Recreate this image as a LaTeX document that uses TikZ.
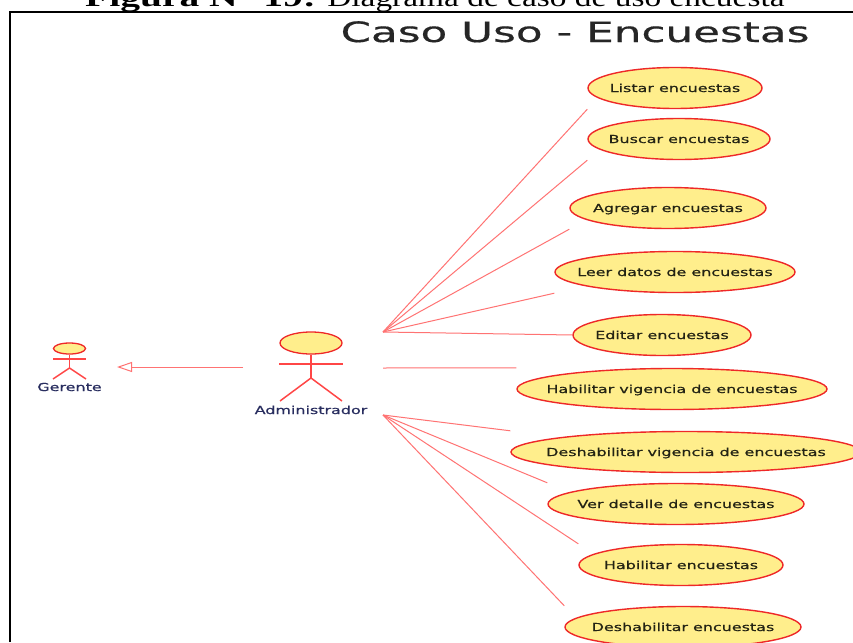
\documentclass[tikz,border=0pt]{standalone}
\usepackage{fontspec}
\usetikzlibrary{shapes.geometric,arrows.meta}
\newfontfamily\umlfont[FakeStretch=1.45,FakeBold=0.6]{DejaVu Sans}
\newfontfamily\titlefont[FakeStretch=1.56,FakeBold=0.5]{DejaVu Sans}
\newfontfamily\capfont[FakeStretch=1.285]{Liberation Serif}
\newfontfamily\capboldfont[FakeStretch=1.52]{Liberation Serif Bold}
\definecolor{ucfill}{RGB}{255,238,140}
\definecolor{ucline}{RGB}{238,40,40}
\definecolor{limbcol}{RGB}{255,70,70}
\definecolor{assoc}{RGB}{255,115,115}
\definecolor{actortext}{RGB}{40,45,95}
\definecolor{uctxt}{RGB}{35,35,20}
\begin{document}
\begin{tikzpicture}[x=1pt,y=-1pt,
  uc/.style={ellipse, draw=ucline, fill=ucfill, line width=1.4pt, inner sep=0pt, minimum height=41pt},
  uctext/.style={font=\umlfont\fontsize{11}{13}\selectfont, text=uctxt, anchor=base, inner sep=0pt},
  assocline/.style={draw=assoc, line width=1pt},
  limb/.style={draw=limbcol, line width=1.5pt},
  head/.style={ellipse, draw=ucline, fill=ucfill, line width=1.3pt, inner sep=0pt},
  actorname/.style={font=\umlfont\fontsize{11}{13}\selectfont, text=actortext, anchor=base, inner sep=0pt},
  frameline/.style={draw=black, line width=2pt}]
\useasboundingbox (0,0) rectangle (853,642);
\fill[white] (0,0) rectangle (853,642);
\clip (0,0) rectangle (853,642);

% caption (cut by the page edge)
\node[font=\capfont\fontsize{26}{30}\selectfont, anchor=base west, inner sep=0pt] (caption) at (85,7)
  {{\capboldfont Figura N° 19:} Diagrama de caso de uso encuesta};

% frame
\draw[frameline] (10,642) -- (10,12) -- (853,12);

% title
\node[font=\titlefont\fontsize{28}{32}\selectfont, text=black!85, anchor=base, inner sep=0pt] (title) at (575,42) {Caso Uso - Encuestas};

% use cases
\node[uc, minimum width=174pt] (uc1) at (675,88) {};
\node[uc, minimum width=182pt] (uc2) at (679,139) {};
\node[uc, minimum width=196pt] (uc3) at (668,208) {};
\node[uc, minimum width=240pt] (uc4) at (675,272) {};
\node[uc, minimum width=178pt] (uc5) at (662,335) {};
\node[uc, minimum width=310pt] (uc6) at (672,389) {};
\node[uc, minimum width=350pt] (uc7) at (686,452) {};
\node[uc, minimum width=256pt] (uc8) at (676,504) {};
\node[uc, minimum width=204pt] (uc9) at (681,565) {};
\node[uc, minimum width=236pt] (uc10) at (683,627) {};

\node[uctext] (t1) at ([yshift=-4pt]uc1.center) {Listar encuestas};
\node[uctext] (t2) at ([yshift=-4pt]uc2.center) {Buscar encuestas};
\node[uctext] (t3) at ([yshift=-4pt]uc3.center) {Agregar encuestas};
\node[uctext] (t4) at ([yshift=-4pt]uc4.center) {Leer datos de encuestas};
\node[uctext] (t5) at ([yshift=-4pt]uc5.center) {Editar encuestas};
\node[uctext] (t6) at ([yshift=-4pt]uc6.center) {Habilitar vigencia de encuestas};
\node[uctext] (t7) at ([yshift=-4pt]uc7.center) {Deshabilitar vigencia de encuestas};
\node[uctext] (t8) at ([yshift=-4pt]uc8.center) {Ver detalle de encuestas};
\node[uctext] (t9) at ([yshift=-4pt]uc9.center) {Habilitar encuestas};
\node[uctext] (t10) at ([yshift=-4pt]uc10.center) {Deshabilitar encuestas};

% actor Administrador
\node[head, minimum width=62pt, minimum height=22pt] (admhead) at (311,343) {};
\coordinate (admhip) at (311,378);
\coordinate (admarmL) at (279,364);
\coordinate (admarmR) at (343,364);
\coordinate (admlegL) at (280,401);
\coordinate (admlegR) at (342,401);
\draw[limb] (admhead.south) -- (admhip);
\draw[limb] (admarmL) -- (admarmR);
\draw[limb] (admlegL) -- (admhip) -- (admlegR);
\node[actorname] (admname) at (311,414) {Administrador};

% actor Gerente
\node[head, minimum width=32pt, minimum height=11pt] (gerhead) at (69.5,348.5) {};
\coordinate (gerhip) at (69.5,368);
\coordinate (gerarmL) at (53,359);
\coordinate (gerarmR) at (86,359);
\coordinate (gerlegL) at (53,379);
\coordinate (gerlegR) at (86,379);
\draw[limb] (gerhead.south) -- (gerhip);
\draw[limb] (gerarmL) -- (gerarmR);
\draw[limb] (gerlegL) -- (gerhip) -- (gerlegR);
\node[actorname] (gername) at (69.5,391) {Gerente};

% generalization
\coordinate (genS) at (243,367);
\coordinate (genT) at (117,367);
\draw[assocline, -{Triangle[open, length=15pt, width=10pt]}] (genS) -- (genT);

% associations
\coordinate (fanA) at (383,332);
\coordinate (fanB) at (383,368);
\coordinate (fanC) at (383,415);
\draw[assocline] (fanA) -- (uc1.west |- uc1.south);
\draw[assocline] (fanA) -- (uc2.west |- uc2.south);
\draw[assocline] (fanA) -- (uc3.west |- uc3.south);
\draw[assocline] (fanA) -- (uc4.west |- uc4.south);
\draw[assocline] (fanA) -- (uc5.west);
\draw[assocline] (fanB) -- (uc6.west |- uc6.north);
\draw[assocline] (fanC) -- (uc7.west |- uc7.north);
\draw[assocline] (fanC) -- (uc8.west |- uc8.north);
\draw[assocline] (fanC) -- (uc9.west |- uc9.north);
\draw[assocline] (fanC) -- (uc10.west |- uc10.north);
\end{tikzpicture}
\end{document}
